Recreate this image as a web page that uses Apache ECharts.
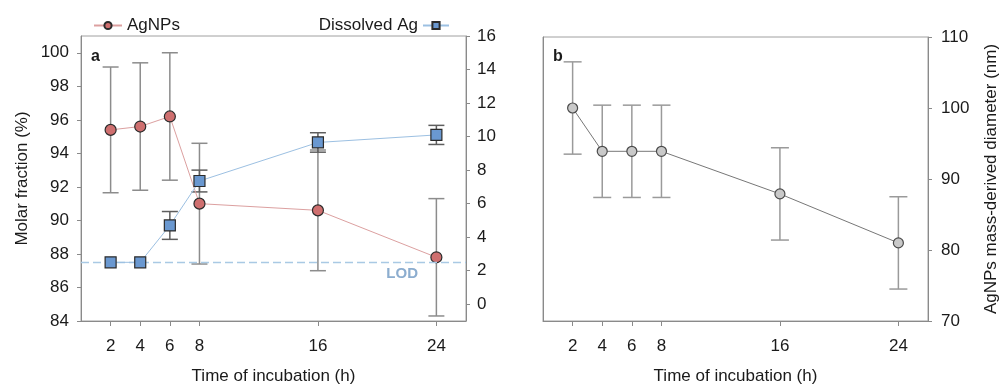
<!DOCTYPE html>
<html>
<head>
<meta charset="utf-8">
<script src="https://cdn.jsdelivr.net/npm/echarts@6/dist/echarts.min.js"></script>
<style>
  html, body { margin: 0; padding: 0; background: #fff; }
  #chart { width: 1001px; height: 390px; }
</style>
</head>
<body>
<div id="chart"></div>
<script>
// Data
const hours = [2, 4, 6, 8, 16, 24];
const agnpsFraction = [95.4, 95.6, 96.2, 91.0, 90.6, 87.8];
const agnpsFractionErr = [3.75, 3.8, 3.8, 3.6, 3.6, 3.5];
const dissolvedAg = [2.5, 2.5, 4.7, 7.35, 9.65, 10.1];
const dissolvedAgErr = [0, 0, 0.83, 0.65, 0.58, 0.57];
const diameter = [100, 93.9, 93.9, 93.9, 87.9, 81.0];
const diameterErr = [6.5, 6.5, 6.5, 6.5, 6.5, 6.5];
const lodValue = 2.5;

const xTicks = [2, 4, 6, 8, 16, 24];
const fractionTicks = [84, 86, 88, 90, 92, 94, 96, 98, 100];
const dissolvedTicks = [0, 2, 4, 6, 8, 10, 12, 14, 16];
const diameterTicks = [70, 80, 90, 100, 110];

const font = 'Liberation Sans, Arial, sans-serif';
const axisGray = '#8a8a8a';
const textColor = '#1a1a1a';

// pairs [x, y] and [x, low, high] built from the arrays above
function points(ys) {
    return hours.map((h, i) => [h, ys[i]]);
}
function bars(ys, errs) {
    let out = [];
    hours.forEach((h, i) => {
        if (errs[i] > 0) out.push([h, ys[i] - errs[i], ys[i] + errs[i]]);
    });
    return out;
}

// Error bar drawing through the axes' own scales
function errorBar(color, capHalf) {
    return function (params, api) {
        const top = api.coord([api.value(0), api.value(2)]);
        const bottom = api.coord([api.value(0), api.value(1)]);
        const style = { stroke: color, lineWidth: 1.5 };
        return {
            type: 'group',
            children: [
                { type: 'line', shape: { x1: top[0], y1: top[1], x2: bottom[0], y2: bottom[1] }, style: style },
                { type: 'line', shape: { x1: top[0] - capHalf, y1: top[1], x2: top[0] + capHalf, y2: top[1] }, style: style },
                { type: 'line', shape: { x1: bottom[0] - capHalf, y1: bottom[1], x2: bottom[0] + capHalf, y2: bottom[1] }, style: style }
            ]
        };
    };
}

function xAxis(gridIndex) {
    return {
        type: 'value', gridIndex: gridIndex, min: 0, max: 26,
        name: 'Time of incubation (h)', nameLocation: 'middle', nameGap: 47,
        nameTextStyle: { fontFamily: font, fontSize: 17, color: textColor },
        axisLine: { onZero: false, lineStyle: { color: axisGray } },
        axisTick: { customValues: xTicks, length: 5, lineStyle: { color: axisGray } },
        axisLabel: { customValues: xTicks, margin: 17, fontFamily: font, fontSize: 17, color: textColor },
        splitLine: { show: false }
    };
}

function yAxis(gridIndex, pos, min, max, ticks, margin) {
    return {
        type: 'value', gridIndex: gridIndex, position: pos, min: min, max: max,
        axisLine: { show: true, onZero: false, lineStyle: { color: axisGray } },
        axisTick: { show: true, customValues: ticks, length: 4, lineStyle: { color: axisGray } },
        axisLabel: { customValues: ticks, margin: margin, fontFamily: font, fontSize: 17, color: textColor },
        splitLine: { show: false }
    };
}

const chart = echarts.init(document.getElementById('chart'), null, { renderer: 'canvas' });

let leftFraction = yAxis(0, 'left', 84, 101, fractionTicks, 12);
leftFraction.name = 'Molar fraction (%)';
leftFraction.nameLocation = 'middle';
leftFraction.nameGap = 50;
leftFraction.nameRotate = 90;
leftFraction.nameTextStyle = { fontFamily: font, fontSize: 17, color: textColor };

let rightDissolved = yAxis(0, 'right', -1, 16, dissolvedTicks, 11);

let leftB = yAxis(1, 'left', 70, 110, diameterTicks, 12);
leftB.axisTick.show = false;
leftB.axisLabel.show = false;

let rightDiameter = yAxis(1, 'right', 70, 110, diameterTicks, 13);
rightDiameter.name = 'AgNPs mass-derived diameter (nm)';
rightDiameter.nameLocation = 'middle';
rightDiameter.nameGap = 55;
rightDiameter.nameRotate = 90;
rightDiameter.nameTextStyle = { fontFamily: font, fontSize: 17, color: textColor };

let option = {
    animation: false,
    backgroundColor: '#fff',
    title: [
        { text: 'a', left: 86, top: 44, textStyle: { fontFamily: font, fontSize: 16, fontWeight: 'bold', color: textColor } },
        { text: 'b', left: 548, top: 44, textStyle: { fontFamily: font, fontSize: 16, fontWeight: 'bold', color: textColor } }
    ],
    legend: [
        {
            data: ['AgNPs'], left: 88, top: 12, itemWidth: 28, itemHeight: 9, itemGap: 8,
            textStyle: { fontFamily: font, fontSize: 17, color: textColor }
        },
        {
            data: ['Dissolved Ag'], right: 546, top: 12, align: 'right', itemWidth: 26, itemHeight: 9,
            textStyle: { fontFamily: font, fontSize: 17, color: textColor }
        }
    ],
    grid: [
        { left: 81, top: 36, width: 385, height: 290, show: true, borderColor: '#a0a0a0', borderWidth: 1 },
        { left: 543, top: 37, width: 385, height: 289, show: true, borderColor: '#a0a0a0', borderWidth: 1 }
    ],
    xAxis: [xAxis(0), xAxis(1)],
    yAxis: [leftFraction, rightDissolved, leftB, rightDiameter],
    series: [
        {
            name: 'AgNPs err', type: 'custom', xAxisIndex: 0, yAxisIndex: 0, z: 2,
            renderItem: errorBar('#8c8c8c', 8), data: bars(agnpsFraction, agnpsFractionErr)
        },
        {
            name: 'Dissolved err', type: 'custom', xAxisIndex: 0, yAxisIndex: 1, z: 2,
            renderItem: errorBar('#5e5e5e', 8), data: bars(dissolvedAg, dissolvedAgErr)
        },
        {
            name: 'AgNPs', type: 'line', xAxisIndex: 0, yAxisIndex: 0, z: 4,
            data: points(agnpsFraction),
            symbol: 'circle', symbolSize: 11,
            lineStyle: { color: '#dca0a0', width: 1 },
            itemStyle: { color: '#cf6f6f', borderColor: '#2b2b2b', borderWidth: 1.2 }
        },
        {
            name: 'Dissolved Ag', type: 'line', xAxisIndex: 0, yAxisIndex: 1, z: 5,
            data: points(dissolvedAg),
            symbol: 'rect', symbolSize: 11,
            lineStyle: { color: '#9cc0e2', width: 1 },
            itemStyle: { color: '#6a98d0', borderColor: '#2b2b2b', borderWidth: 1.2 },
            markLine: {
                silent: true, symbol: 'none',
                lineStyle: { color: '#a9c9e4', type: [8, 4], width: 1.3 },
                label: {
                    position: 'insideEndBottom', formatter: 'LOD', distance: [48, 4],
                    fontFamily: font, fontSize: 15, fontWeight: 'bold', color: '#8cadcf'
                },
                data: [{ yAxis: lodValue }]
            }
        },
        {
            name: 'Diameter err', type: 'custom', xAxisIndex: 1, yAxisIndex: 3, z: 2,
            renderItem: errorBar('#9a9a9a', 9), data: bars(diameter, diameterErr)
        },
        {
            name: 'Diameter', type: 'line', xAxisIndex: 1, yAxisIndex: 3, z: 4,
            data: points(diameter),
            symbol: 'circle', symbolSize: 10,
            lineStyle: { color: '#777', width: 1 },
            itemStyle: { color: '#c9c9c9', borderColor: '#4a4a4a', borderWidth: 1.2 }
        }
    ]
};
chart.setOption(option);
</script>
</body>
</html>
